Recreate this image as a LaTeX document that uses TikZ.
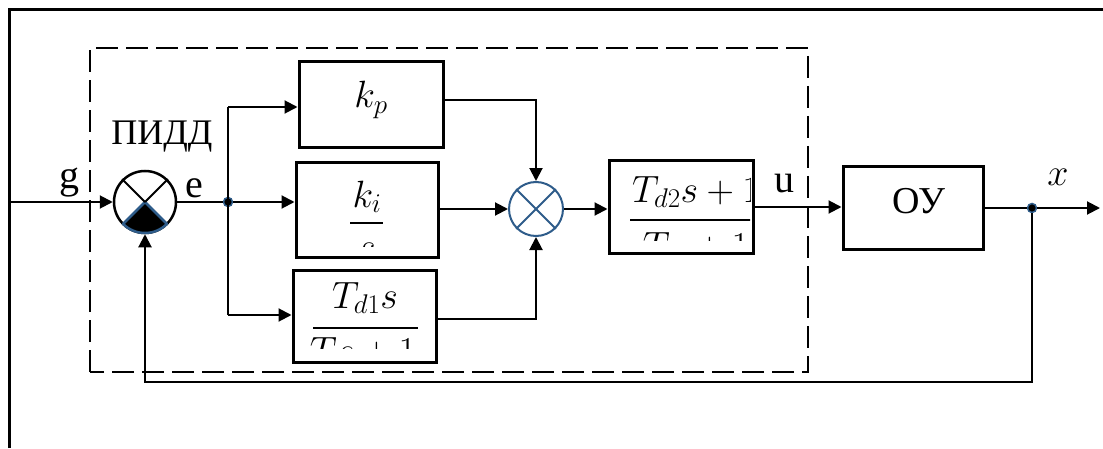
\RequirePackage{fix-cm}
\documentclass[tikz,border=0pt]{standalone}
\usepackage{fontspec}
\setmainfont{Liberation Serif}
\usetikzlibrary{arrows.meta,calc}
\DeclareMathSizes{38}{38}{27}{20}
\definecolor{edgeblue}{HTML}{2E5C8A}
\tikzset{
  wire/.style={line width=2pt},
  arr/.style={wire, -{Triangle[length=13pt,width=13pt]}},
  blockbox/.style={draw, line width=3pt, inner sep=0pt},
  dotnode/.style={circle, fill=black, draw=edgeblue, line width=1.5pt, inner sep=0pt, minimum size=9pt},
  lbl/.style={inner sep=0pt, font=\fontsize{40}{44}\selectfont},
  mathlbl/.style={inner sep=0pt, font=\fontsize{38}{42}\selectfont},
  dashbox/.style={line width=2.6pt, dash pattern=on 22pt off 8pt},
  fracbar/.style={line width=2.8pt},
}
\begin{document}
\begin{tikzpicture}[x=1pt,y=1pt]
\useasboundingbox (0,0) rectangle (1103,448);
% partial outer frame
\coordinate (fbl) at (9,0);
\coordinate (ftl) at (9,438);
\coordinate (ftr) at (1103,438);
\draw[line width=3pt] (fbl) -- (ftl) -- (ftr);
% dashed controller frame
\coordinate (dsw) at (90,76);
\coordinate (dne) at (808,400);
\draw[dashbox] (dsw) rectangle (dne);

% blocks
\node[blockbox, minimum width=144pt, minimum height=86pt] (kp) at (371,343) {};
\node[blockbox, minimum width=142pt, minimum height=94pt] (ki) at (367,238) {};
\node[blockbox, minimum width=143pt, minimum height=92pt] (td1) at (364.5,132) {};
\node[blockbox, minimum width=144pt, minimum height=92pt] (td2) at (681,241) {};
\node[blockbox, minimum width=140pt, minimum height=83pt] (ou) at (913,240) {};

% block contents
\node[mathlbl, anchor=base] (kptxt) at (371,340) {$k_p$};
\begin{scope}
  \clip (298,202) rectangle (436,284);
  \node[mathlbl, anchor=base] (kinum) at (367,241) {$k_i$};
  \draw[fracbar] (350,225) -- (383,225);
  \node[mathlbl, anchor=base] (kiden) at (367,189) {$s$};
\end{scope}
\begin{scope}
  \clip (295,100) rectangle (434,176);
  \node[mathlbl, anchor=base] (td1num) at (365,140) {$T_{d1}s$};
  \draw[fracbar] (313,120) -- (418,120);
  \node[mathlbl, anchor=base] (td1den) at (363,85) {$Ts+1$};
\end{scope}
\begin{scope}
  \clip (611,208) rectangle (750,285);
  \node[mathlbl, anchor=base west] (td2num) at (632,246) {$T_{d2}s+1$};
  \draw[fracbar] (630,228) -- (760,228);
  \node[mathlbl, anchor=base] (td2den) at (696,190) {$Ts+1$};
\end{scope}
\node[lbl, anchor=base, font=\fontsize{38}{42}\selectfont] (outxt) at (919,235) {ОУ};

% summing junction 1
\node[circle, draw, line width=2.5pt, minimum size=62pt, inner sep=0pt] (sum1) at (145,246) {};
\fill[black] (sum1.center) -- ++(225:31) arc[start angle=225, end angle=315, radius=31] -- cycle;
\draw[edgeblue, line width=2.5pt, line join=round] (sum1.center) -- ++(225:31) arc[start angle=225, end angle=315, radius=31] -- cycle;
\draw[wire] (sum1.center) -- (sum1.45);
\draw[wire] (sum1.center) -- (sum1.135);

% summing junction 2
\node[circle, draw=edgeblue, line width=2pt, minimum size=54pt, inner sep=0pt] (sum2) at (536,239) {};
\draw[edgeblue, line width=2pt] (sum2.45) -- (sum2.225);
\draw[edgeblue, line width=2pt] (sum2.135) -- (sum2.315);

% branch points
\node[dotnode] (dotE) at (228,246) {};
\node[dotnode] (dotX) at (1032,240) {};
\coordinate (brT) at (228,341);
\coordinate (brB) at (228,133);
\coordinate (gin) at (9,246);
\coordinate (xout) at (1100,240);
\coordinate (fb) at (1032,66);

% connectors
\draw[arr] (gin) -- (sum1.west);
\draw[wire] (sum1.east) -- (dotE);
\draw[wire] (brB) -- (brT);
\draw[arr] (brT) -- (brT -| kp.west);
\draw[arr] (dotE) -- (dotE -| ki.west);
\draw[arr] (brB) -- (brB -| td1.west);
\draw[arr] ([yshift=5pt]kp.east) -| (sum2.north);
\draw[arr] (ki.east |- sum2.west) -- (sum2.west);
\draw[arr] ([yshift=-3pt]td1.east) -| (sum2.south);
\draw[arr] (sum2.east) -- (sum2.east -| td2.west);
\draw[arr] (td2.east) -- (td2.east -| ou.west);
\draw[wire] (ou.east) -- (dotX);
\draw[arr] (dotX) -- (xout);
\draw[arr] (dotX) -- (fb) -| (sum1.south);

% labels
\node[lbl, anchor=base, font=\fontsize{36}{40}\selectfont] (pidd) at (162,303) {ПИДД};
\node[lbl, anchor=base] (glbl) at (69,260) {g};
\node[lbl, anchor=base] (elbl) at (194,251) {e};
\node[lbl, anchor=base] (ulbl) at (784,256) {u};
\node[mathlbl, anchor=base] (xlbl) at (1058,263) {$x$};
\end{tikzpicture}
\end{document}
